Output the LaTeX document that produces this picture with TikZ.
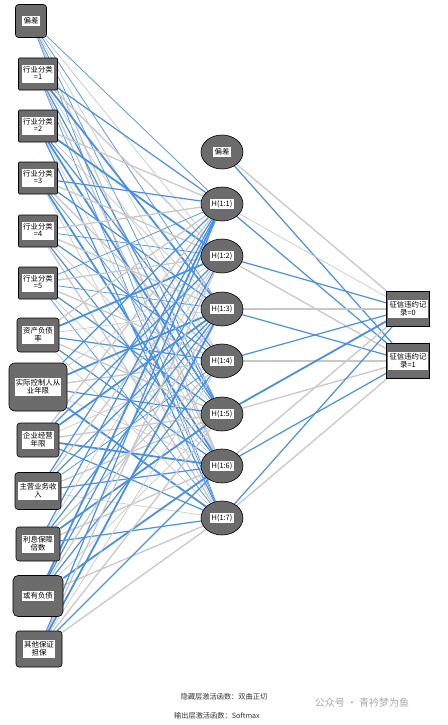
\documentclass[tikz,border=0pt]{standalone}
\usepackage{fontspec}
\newfontfamily\cjk{Noto Sans CJK SC}
\usetikzlibrary{shapes.geometric,backgrounds}
\definecolor{ngray}{RGB}{108,108,108}
\definecolor{eblue}{RGB}{74,144,226}
\definecolor{egray}{RGB}{200,200,200}
\newcommand\lab[1]{{\setlength{\fboxsep}{1.2pt}\colorbox{white}{\cjk\fontsize{7.4}{8}\selectfont\renewcommand\arraystretch{0.8}\begin{tabular}{@{}c@{}}#1\end{tabular}}}}
\tikzset{
  inbox/.style={draw=black, fill=ngray, line width=0.6pt, inner sep=0pt, rounded corners=3pt},
  sqbox/.style={draw=black, fill=ngray, line width=0.6pt, inner sep=0pt, rounded corners=1pt},
  hid/.style={ellipse, draw=black, fill=ngray, line width=0.6pt, inner sep=0pt, minimum width=42pt, minimum height=34pt},
  outbox/.style={draw=black, fill=ngray, line width=0.6pt, inner sep=0pt, minimum width=43pt, minimum height=35pt},
  b1/.style={draw=eblue, line width=0.7pt},
  b2/.style={draw=eblue, line width=1.2pt},
  b3/.style={draw=eblue, line width=1.8pt},
  g1/.style={draw=egray, line width=0.7pt},
  g2/.style={draw=egray, line width=1.3pt},
  g3/.style={draw=egray, line width=1.8pt},
  note/.style={font=\cjk\fontsize{7.2}{8}\selectfont, text=black!80}
}
\begin{document}
\begin{tikzpicture}[x=1pt,y=-1pt]
\useasboundingbox (0,0) rectangle (447,725);
% input layer
\node[inbox, minimum width=31pt, minimum height=33pt] (in1) at (31,21) {\lab{偏差}};
\node[sqbox, minimum width=39pt, minimum height=32pt] (in2) at (38,74) {\lab{行业分类\\=1}};
\node[sqbox, minimum width=39pt, minimum height=32pt] (in3) at (38,126) {\lab{行业分类\\=2}};
\node[sqbox, minimum width=39pt, minimum height=32pt] (in4) at (38,178) {\lab{行业分类\\=3}};
\node[sqbox, minimum width=39pt, minimum height=32pt] (in5) at (38,231) {\lab{行业分类\\=4}};
\node[sqbox, minimum width=39pt, minimum height=32pt] (in6) at (38,283) {\lab{行业分类\\=5}};
\node[inbox, minimum width=42pt, minimum height=34pt] (in7) at (38,335) {\lab{资产负债\\率}};
\node[inbox, rounded corners=6pt, minimum width=58pt, minimum height=48pt] (in8) at (38,387) {\lab{实际控制人从\\业年限}};
\node[inbox, minimum width=42pt, minimum height=34pt] (in9) at (38,440) {\lab{企业经营\\年限}};
\node[inbox, minimum width=46pt, minimum height=37pt] (in10) at (38,491) {\lab{主营业务收\\入}};
\node[inbox, minimum width=44pt, minimum height=34pt] (in11) at (38,544) {\lab{利息保障\\倍数}};
\node[inbox, rounded corners=5pt, minimum width=50pt, minimum height=41pt] (in12) at (38,596) {\lab{或有负债}};
\node[inbox, minimum width=46pt, minimum height=36pt] (in13) at (39,649) {\lab{其他保证\\担保}};
% hidden layer
\node[hid] (hb) at (222,152) {\lab{偏差}};
\node[hid] (h1) at (222,204) {\lab{H(1:1)}};
\node[hid] (h2) at (222,256) {\lab{H(1:2)}};
\node[hid] (h3) at (222,309) {\lab{H(1:3)}};
\node[hid] (h4) at (222,361) {\lab{H(1:4)}};
\node[hid] (h5) at (222,414) {\lab{H(1:5)}};
\node[hid] (h6) at (222,466) {\lab{H(1:6)}};
\node[hid] (h7) at (222,518) {\lab{H(1:7)}};
% output layer
\node[outbox] (o1) at (408,309) {\lab{征信违约记\\录=0}};
\node[outbox] (o2) at (408,361) {\lab{征信违约记\\录=1}};
% connectors
\begin{pgfonlayer}{background}
\foreach \i/\codes in {
  1/{b1,g1,b1,g1,b1,g2,b1},
  2/{b2,g2,b3,g1,b2,g2,b1},
  3/{g2,b3,g1,b2,b3,g1,b2},
  4/{b2,g2,b2,g2,b1,b3,g1},
  5/{g2,b1,g2,b2,g1,b2,g2},
  6/{b1,g2,b1,g2,b2,g1,b1},
  7/{g2,b3,g1,b2,g2,b2,g1},
  8/{b2,g1,b3,g2,b2,g1,b3},
  9/{g2,b2,b3,g1,g2,b3,b2},
  10/{b2,g2,b2,b1,g2,b2,g1},
  11/{b2,g1,b2,g2,b3,g2,b2},
  12/{b3,b2,g2,b2,g1,b3,g2},
  13/{b2,g2,b3,g1,g2,b2,g2}}{
  \foreach \c [count=\j] in \codes {\draw[\c] (in\i) -- (h\j);}
}
\foreach \h/\ca/\cb in {hb/g2/b2, h1/g1/b2, h2/b2/g2, h3/g2/b2, h4/b2/g2, h5/b3/g2, h6/g2/b2, h7/b2/g2}{
  \draw[\ca] (\h) -- (o1);
  \draw[\cb] (\h) -- (o2);
}
\end{pgfonlayer}
% notes
\node[note] (n1) at (224,697) {隐藏层激活函数：双曲正切};
\node[note] (n2) at (217,716) {输出层激活函数：Softmax};
\node[font=\cjk\fontsize{10}{12}\selectfont, text=black!35] (wm) at (362,703) {公众号 · 青衿梦为鱼};
\end{tikzpicture}
\end{document}
